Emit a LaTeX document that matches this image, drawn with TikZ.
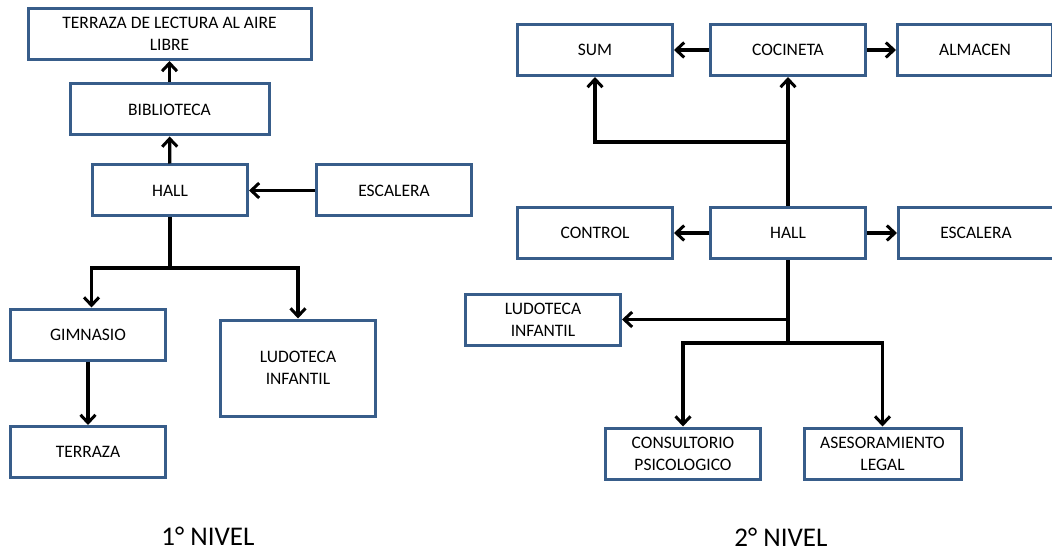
\documentclass[tikz,border=0pt]{standalone}
\usepackage{fontspec}
\setmainfont{Carlito}
\usetikzlibrary{arrows.meta}
\definecolor{borde}{RGB}{56,93,138}
\tikzset{
	caja/.style={draw=borde, line width=3pt, fill=white, minimum width=155pt, minimum height=51pt,
		inner sep=0pt, align=center, font=\fontsize{17.5}{22}\selectfont},
	flecha/.style={line width=3.2pt, -{Straight Barb[length=8pt,width=15pt,line width=3pt]}},
	linea/.style={line width=3.2pt},
	titulo/.style={font=\fontsize{27}{32}\selectfont}
}
\begin{document}
\begin{tikzpicture}[x=1pt,y=-1pt]
		\useasboundingbox (0,0) rectangle (1052,556);
		%Primer nivel
		\node[caja, minimum width=283pt] (terraza lectura) at (169.5,34) {TERRAZA DE LECTURA AL AIRE\\LIBRE};
		\node[caja, minimum width=199pt] (biblioteca) at (169.5,109.5) {BIBLIOTECA};
		\node[caja] (hall1) at (170,190.5) {HALL};
		\node[caja] (escalera1) at (394,190.5) {ESCALERA};
		\node[caja] (gimnasio) at (88,334.5) {GIMNASIO};
		\node[caja, minimum height=96pt] (ludoteca1) at (298,368) {LUDOTECA\\INFANTIL};
		\node[caja] (terraza) at (88,452) {TERRAZA};
		\coordinate (b1) at (170,268);
		\draw[flecha] (hall1) -- (biblioteca);
		\draw[flecha] (biblioteca) -- (terraza lectura);
		\draw[flecha] (escalera1) -- (hall1);
		\draw[linea] (hall1.south) -- (b1);
		\draw[flecha] (b1) -| ([xshift=3.5pt]gimnasio.north);
		\draw[flecha] (b1) -| (ludoteca1.north);
		\draw[flecha] (gimnasio) -- (terraza);
		\node[titulo] (nivel1) at (208,536) {1° NIVEL};
		%Segundo nivel
		\node[caja] (sum) at (595,50) {SUM};
		\node[caja] (cocineta) at (788,50) {COCINETA};
		\node[caja] (almacen) at (975,50) {ALMACEN};
		\node[caja] (control) at (595,233) {CONTROL};
		\node[caja] (hall2) at (788,233) {HALL};
		\node[caja] (escalera2) at (976,233) {ESCALERA};
		\node[caja] (ludoteca2) at (543,319.5) {LUDOTECA\\INFANTIL};
		\node[caja] (consultorio) at (683,453.5) {CONSULTORIO\\PSICOLOGICO};
		\node[caja, minimum width=157pt] (asesoramiento) at (882.5,453.5) {ASESORAMIENTO\\LEGAL};
		\coordinate (b2) at (788,142);
		\coordinate (b3) at (788,319.5);
		\coordinate (b4) at (788,343);
		\draw[flecha] (cocineta) -- (sum);
		\draw[flecha] (cocineta) -- (almacen);
		\draw[flecha] (hall2) -- (control);
		\draw[flecha] (hall2) -- (escalera2);
		\draw[flecha] (hall2) -- (cocineta);
		\draw[flecha] (b2) -| (sum.south);
		\draw[linea] (hall2.south) -- (b4);
		\draw[flecha] (b3) -- (ludoteca2.east);
		\draw[flecha] (b4) -| (consultorio.north);
		\draw[flecha] (b4) -| (asesoramiento.north);
		\node[titulo] (nivel2) at (781,537) {2° NIVEL};
\end{tikzpicture}
\end{document}
